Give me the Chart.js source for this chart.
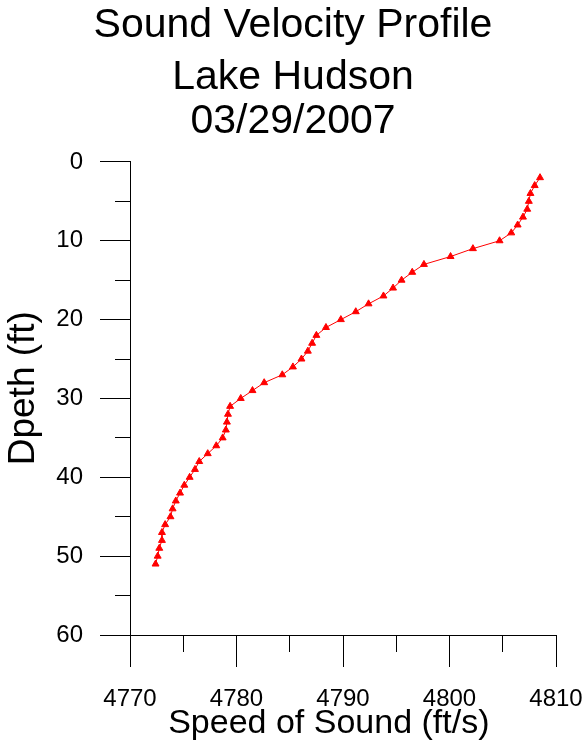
<!DOCTYPE html>
<html>
<head>
<meta charset="utf-8">
<title>Sound Velocity Profile - Lake Hudson</title>
<script src="https://cdn.jsdelivr.net/npm/chart.js@4/dist/chart.umd.min.js"></script>
<style>
  html, body { margin: 0; padding: 0; background: #ffffff; }
  #wrap { position: relative; width: 586px; height: 754px; }
</style>
</head>
<body>
<div id="wrap"><canvas id="svp"></canvas></div>
<script>
// Survey profile: depth below surface (ft) and measured speed of sound (ft/s)
const depthFt = [
  2, 3, 4, 5, 6, 7, 8, 9, 10, 11,
  12, 13, 14, 15, 16, 17, 18, 19, 20, 21,
  22, 23, 24, 25, 26, 27, 28, 29, 30, 31,
  32, 33, 34, 35, 36, 37, 38, 39, 40, 41,
  42, 43, 44, 45, 46, 47, 48, 49, 50, 51
];
const soundSpeed = [
  4808.5, 4808.0, 4807.6, 4807.45, 4807.3, 4806.9, 4806.4, 4805.8, 4804.7, 4802.2,
  4800.1, 4797.6, 4796.5, 4795.5, 4794.7, 4793.8, 4792.4, 4791.2, 4789.8, 4788.4,
  4787.5, 4787.1, 4786.7, 4786.1, 4785.3, 4784.3, 4782.6, 4781.5, 4780.4, 4779.4,
  4779.2, 4779.1, 4779.0, 4778.7, 4778.1, 4777.3, 4776.5, 4776.1, 4775.6, 4775.1,
  4774.7, 4774.3, 4774.0, 4773.8, 4773.3, 4773.0, 4773.0, 4772.75, 4772.6, 4772.4
];

// Axis ranges and tick spacing
const speedRange = [4770, 4810];
const depthRange = [0, 60];
const speedMajorStep = 10;
const speedMinorStep = 5;
const depthMajorStep = 10;
const depthMinorStep = 5;

const titleLines = ['Sound Velocity Profile', 'Lake Hudson'];
const surveyDate = '03/29/2007';
const xAxisTitle = 'Speed of Sound (ft/s)';
const yAxisTitle = 'Dpeth (ft)';

const FONT = "'Liberation Sans', Arial, Helvetica, sans-serif";

const points = depthFt.map((d, i) => ({ x: soundSpeed[i], y: d }));

// plain integer labels, no thousands separator
const plainLabel = v => String(v);

// axis titles sit a little toward the origin, centred on the full axis
// line including the crossing tick, so pad them on the far side
const xTitleText = xAxisTitle + '   ';
const yTitleText = '  ' + yAxisTitle;

new Chart(document.getElementById('svp'), {
  type: 'scatter',
  data: {
    datasets: [{
      data: points,
      showLine: true,
      borderColor: '#ff0000',
      borderWidth: 1,
      pointStyle: 'triangle',
      pointRadius: 4,
      pointBorderWidth: 1,
      pointBackgroundColor: '#ff0000',
      pointBorderColor: '#ff0000'
    }]
  },
  options: {
    responsive: true,
    maintainAspectRatio: false,
    animation: false,
    layout: { padding: 0 },
    plugins: {
      legend: { display: false },
      tooltip: { enabled: false },
      title: {
        display: true,
        text: titleLines,
        color: '#000000',
        font: { family: FONT, size: 41, weight: 'normal', lineHeight: 1.26 },
        padding: { top: 0, bottom: 0 }
      },
      subtitle: {
        display: true,
        text: surveyDate,
        color: '#000000',
        font: { family: FONT, size: 41, weight: 'normal', lineHeight: 0.88 },
        padding: { top: 0, bottom: 22.5 }
      }
    },
    scales: {
      x: {
        type: 'linear',
        position: 'bottom',
        weight: 1,
        min: speedRange[0],
        max: speedRange[1],
        ticks: {
          stepSize: speedMajorStep,
          callback: plainLabel,
          color: '#000000',
          font: { family: FONT, size: 24 },
          padding: 18,
          maxRotation: 0,
          autoSkip: false
        },
        grid: { drawOnChartArea: false, drawTicks: true, tickLength: 32, tickColor: '#000000', tickWidth: 1 },
        border: { display: true, color: '#000000', width: 1 },
        title: {
          display: true,
          text: xTitleText,
          color: '#000000',
          font: { family: FONT, size: 34, lineHeight: 1.2 },
          padding: { top: 0, bottom: 10.4 }
        },
        afterFit(scale) { scale.height = 119; scale.paddingRight = 30; }
      },
      xMinor: {
        type: 'linear',
        position: 'bottom',
        weight: 0,
        min: speedRange[0],
        max: speedRange[1],
        ticks: { stepSize: speedMinorStep, display: false },
        grid: { drawOnChartArea: false, drawTicks: true, tickLength: 17, tickColor: '#000000', tickWidth: 1 },
        border: { display: false },
        afterFit(scale) { scale.height = 0; }
      },
      y: {
        type: 'linear',
        position: 'left',
        weight: 1,
        reverse: true,
        min: depthRange[0],
        max: depthRange[1],
        ticks: {
          stepSize: depthMajorStep,
          callback: plainLabel,
          color: '#000000',
          font: { family: FONT, size: 24 },
          padding: 17
        },
        grid: { drawOnChartArea: false, drawTicks: true, tickLength: 30, tickColor: '#000000', tickWidth: 1 },
        border: { display: true, color: '#000000', width: 1 },
        title: {
          display: true,
          text: yTitleText,
          color: '#000000',
          font: { family: FONT, size: 37, lineHeight: 1.2 },
          padding: { top: 2, bottom: 0 }
        },
        afterFit(scale) { scale.width = 130; }
      },
      yMinor: {
        type: 'linear',
        position: 'left',
        weight: 0,
        reverse: true,
        min: depthRange[0],
        max: depthRange[1],
        ticks: { stepSize: depthMinorStep, display: false },
        grid: { drawOnChartArea: false, drawTicks: true, tickLength: 15, tickColor: '#000000', tickWidth: 1 },
        border: { display: false },
        afterFit(scale) { scale.width = 0; }
      }
    }
  }
});
</script>
</body>
</html>
